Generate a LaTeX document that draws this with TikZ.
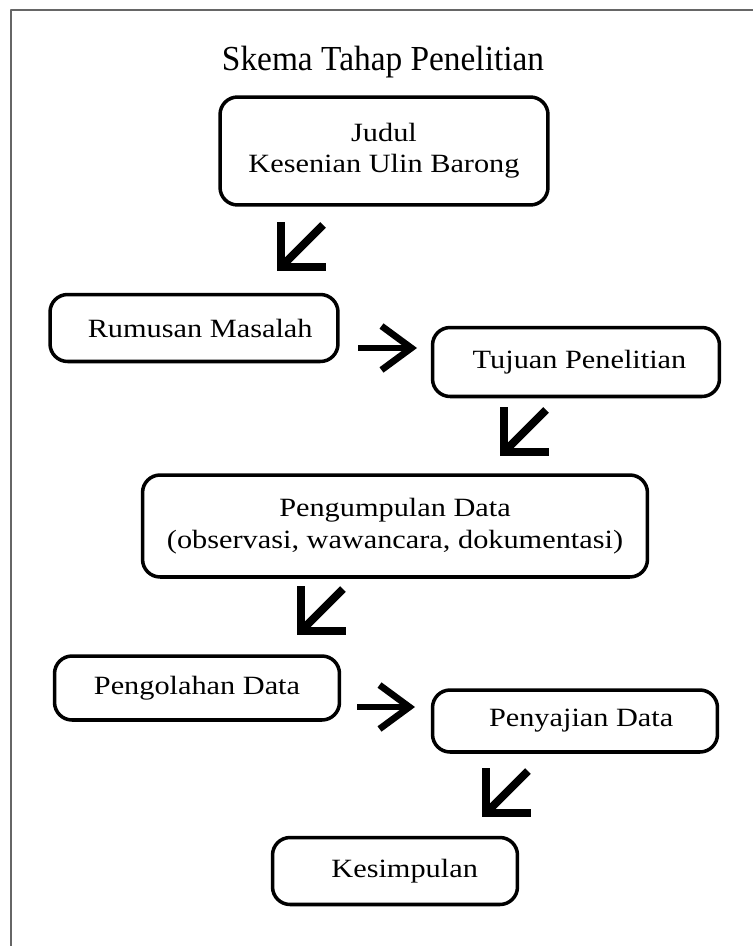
\documentclass[tikz,border=0pt]{standalone}
\usepackage{fontspec}
\setmainfont{Liberation Serif}[FakeStretch=1.15]
\newfontfamily\headfont{Liberation Serif}[FakeStretch=0.95]
\usetikzlibrary{arrows.meta}

\begin{document}
\begin{tikzpicture}[
    x=0.02cm,y=-0.02cm,
    line join=round,
    stage/.style={rectangle,draw,line width=2pt,rounded corners=10pt,
        align=center,inner sep=0pt,
        font=\fontsize{15}{17.5}\selectfont},
    dstep/.style={line width=4.5pt,-{Straight Barb[length=18pt,width=36pt]}},
    rstep/.style={line width=3.8pt,-{Straight Barb[length=17pt,width=25pt]}}
  ]
    \useasboundingbox (0,0) rectangle (753,946);
    \draw[black!60,line width=0.8pt] (11,946) -- (11,10) -- (753,10);

    \node (title) at (383,62) {\headfont\fontsize{20}{23}\selectfont Skema Tahap Penelitian};

    \node [stage,minimum width=6.56cm,minimum height=2.16cm] (judul)   at (384,151) {Judul\\Kesenian Ulin Barong};
    \node [stage,minimum width=5.76cm,minimum height=1.34cm] (rumusan) at (194,328) {\hspace*{7pt}Rumusan Masalah};
    \node [stage,minimum width=5.74cm,minimum height=1.38cm] (tujuan)  at (576,362) {\hspace*{4pt}Tujuan Penelitian};
    \node [stage,minimum width=10.1cm,minimum height=2.04cm,font=\fontsize{15}{18}\selectfont]
                                                             (kumpul)  at (395,526) {Pengumpulan Data\\(observasi, wawancara, dokumentasi)};
    \node [stage,minimum width=5.7cm,minimum height=1.28cm]  (olah)    at (197,688) {Pengolahan Data};
    \node [stage,minimum width=5.7cm,minimum height=1.24cm]  (saji)    at (575,721) {\hspace*{7pt}Penyajian Data};
    \node [stage,minimum width=4.9cm,minimum height=1.34cm]  (simpul)  at (395,871) {\hspace*{11pt}Kesimpulan};

    % arrow ends
    \coordinate (d1s) at (323,225);  \coordinate (d1e) at (277,271);
    \coordinate (r1s) at (358,348);  \coordinate (r1e) at (417,348);
    \coordinate (d2s) at (546,410);  \coordinate (d2e) at (500,456);
    \coordinate (d3s) at (343,589);  \coordinate (d3e) at (297,635);
    \coordinate (r2s) at (357,707);  \coordinate (r2e) at (415,707);
    \coordinate (d4s) at (528,771);  \coordinate (d4e) at (482,817);

    \draw [dstep] (d1s) -- (d1e);
    \draw [rstep] (r1s) -- (r1e);
    \draw [dstep] (d2s) -- (d2e);
    \draw [dstep] (d3s) -- (d3e);
    \draw [rstep] (r2s) -- (r2e);
    \draw [dstep] (d4s) -- (d4e);
\end{tikzpicture}
\end{document}
